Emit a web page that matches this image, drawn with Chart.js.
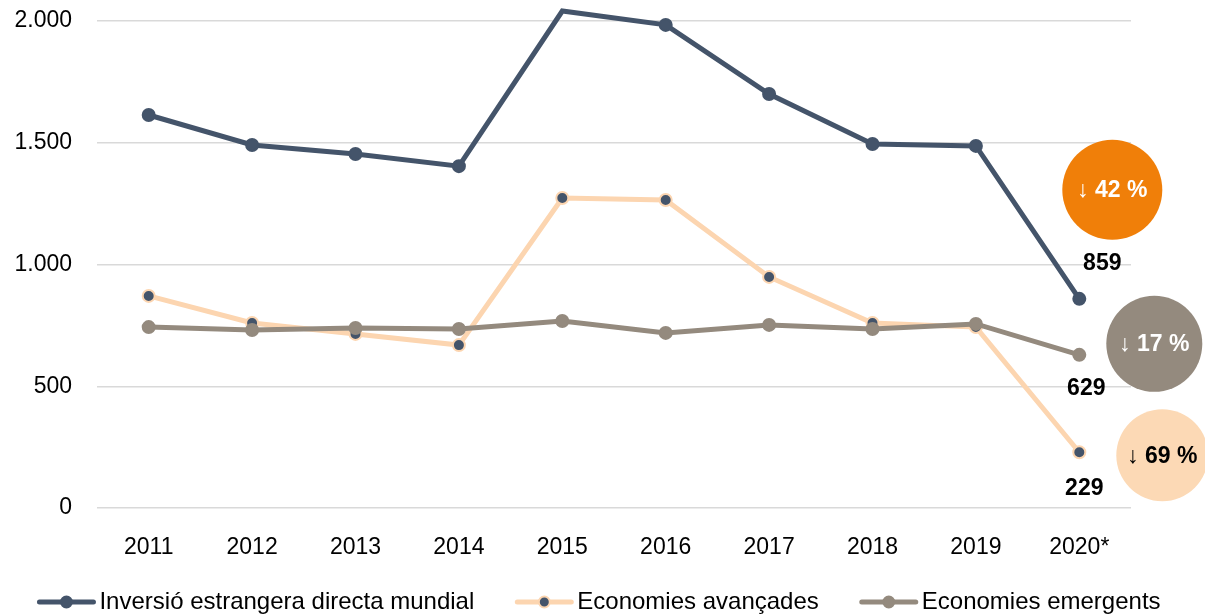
<!DOCTYPE html>
<html>
<head>
<meta charset="utf-8">
<script src="https://cdn.jsdelivr.net/npm/chart.js@4/dist/chart.umd.min.js"></script>
<style>
  html, body { margin: 0; padding: 0; background: #fff; }
  #wrap { width: 1205px; height: 616px; }
</style>
</head>
<body>
<div id="wrap"><canvas id="line-chart"></canvas></div>
<script>
var years = ['2011', '2012', '2013', '2014', '2015', '2016', '2017', '2018', '2019', '2020*'];
var mundial = [1614, 1491, 1454, 1404, 2041, 1984, 1700, 1495, 1487, 859];
var avancades = [871, 760, 715, 669, 1273, 1265, 949, 760, 743, 229];
var emergents = [743, 731, 739, 735, 768, 719, 752, 735, 756, 629];
var yTicks = [0, 500, 1000, 1500, 2000];
var drops = ['↓ 42 %', '↓ 69 %', '↓ 17 %'];

var navy = '#44546a';
var peach = '#fcd5b0';
var grey = '#948a7e';
var orange = '#f07f09';
var fontFam = '"Liberation Sans", Arial, sans-serif';

// 2020 value labels and the percentage circles, placed from the last points
var endLabels = {
  id: 'endLabels',
  afterDatasetsDraw: function(chart) {
    var ctx = chart.ctx;
    var specs = [
      { ds: 0, dx: 23, dy: -35, cx: 33, cy: -109, r: 50, fill: orange, txt: '#fff' },
      { ds: 1, dx: 5, dy: 36, cx: 83, cy: 3, r: 46, fill: '#fcd9b5', txt: '#000' },
      { ds: 2, dx: 7, dy: 34, cx: 75, cy: -11, r: 48, fill: grey, txt: '#fff' }
    ];
    ctx.save();
    ctx.textAlign = 'center';
    ctx.textBaseline = 'middle';
    specs.forEach(function(s) {
      var meta = chart.getDatasetMeta(s.ds);
      var last = meta.data.length - 1;
      var pt = meta.data[last];
      var val = chart.data.datasets[s.ds].data[last];
      ctx.font = 'bold 23px ' + fontFam;
      ctx.fillStyle = '#000';
      ctx.fillText(String(val), pt.x + s.dx, pt.y + s.dy);
      ctx.beginPath();
      ctx.fillStyle = s.fill;
      ctx.arc(pt.x + s.cx, pt.y + s.cy, s.r, 0, Math.PI * 2);
      ctx.fill();
      ctx.font = 'bold 23px ' + fontFam;
      ctx.fillStyle = s.txt;
      ctx.fillText(drops[s.ds], pt.x + s.cx, pt.y + s.cy + 1);
    });
    ctx.restore();
  }
};

// legend at the bottom: line with a dot, then the label
var lineLegend = {
  id: 'lineLegend',
  afterDraw: function(chart) {
    var ctx = chart.ctx;
    var y = 602, sw = 60, gapText = 3, gapItem = 40;
    ctx.save();
    ctx.font = '24px ' + fontFam;
    var sets = chart.data.datasets;
    var total = 0;
    sets.forEach(function(d, i) {
      total += sw + gapText + ctx.measureText(d.label).width + (i < sets.length - 1 ? gapItem : 0);
    });
    var x = (chart.width - total) / 2 - 4;
    sets.forEach(function(d) {
      ctx.strokeStyle = d.borderColor; ctx.lineWidth = 5; ctx.lineCap = 'round';
      ctx.beginPath(); ctx.moveTo(x + 3, y); ctx.lineTo(x + sw - 3, y); ctx.stroke();
      ctx.fillStyle = d.pointBackgroundColor; ctx.strokeStyle = d.pointBorderColor; ctx.lineWidth = 2;
      ctx.beginPath(); ctx.arc(x + sw / 2, y, 5.5, 0, Math.PI * 2); ctx.fill(); ctx.stroke();
      ctx.fillStyle = '#000'; ctx.textBaseline = 'middle'; ctx.textAlign = 'left';
      ctx.fillText(d.label, x + sw + gapText, y);
      x += sw + gapText + ctx.measureText(d.label).width + gapItem;
    });
    ctx.restore();
  }
};

new Chart(document.getElementById('line-chart'), {
  type: 'line',
  data: {
    labels: years,
    datasets: [{
      label: 'Inversió estrangera directa mundial',
      data: mundial,
      borderColor: navy,
      backgroundColor: navy,
      pointBackgroundColor: navy,
      pointBorderColor: navy,
      clip: false,
      order: 0
    }, {
      label: 'Economies avançades',
      data: avancades,
      borderColor: peach,
      backgroundColor: peach,
      pointBackgroundColor: navy,
      pointBorderColor: peach,
      clip: false,
      order: 2
    }, {
      label: 'Economies emergents',
      data: emergents,
      borderColor: grey,
      backgroundColor: grey,
      pointBackgroundColor: grey,
      pointBorderColor: grey,
      clip: false,
      order: 1
    }]
  },
  options: {
    responsive: true,
    maintainAspectRatio: false,
    animation: false,
    elements: {
      line: { borderWidth: 5, tension: 0, fill: false },
      point: { radius: 6, borderWidth: 2, hoverRadius: 6 }
    },
    layout: { padding: { top: 21, right: 74, left: 10, bottom: 52 } },
    plugins: {
      tooltip: { enabled: false },
      legend: { display: false }
    },
    scales: {
      x: {
        offset: true,
        grid: { display: false },
        border: { display: false },
        afterFit: function(axis) { axis.height = 56; },
        ticks: { color: '#000', padding: 18, font: { family: fontFam, size: 23 } }
      },
      y: {
        min: 0,
        max: 2000,
        afterBuildTicks: function(axis) {
          axis.ticks = yTicks.map(function(v) { return { value: v }; });
        },
        afterFit: function(axis) {
          axis.width = 87;
          axis.paddingTop = 0;
          axis.paddingBottom = 0;
        },
        grid: { color: '#d9d9d9', lineWidth: 1.5, drawTicks: false },
        border: { display: false },
        ticks: {
          color: '#000',
          padding: 25,
          font: { family: fontFam, size: 23 },
          callback: function(v) { return v.toLocaleString('de-DE'); }
        }
      }
    }
  },
  plugins: [endLabels, lineLegend]
});
</script>
</body>
</html>
